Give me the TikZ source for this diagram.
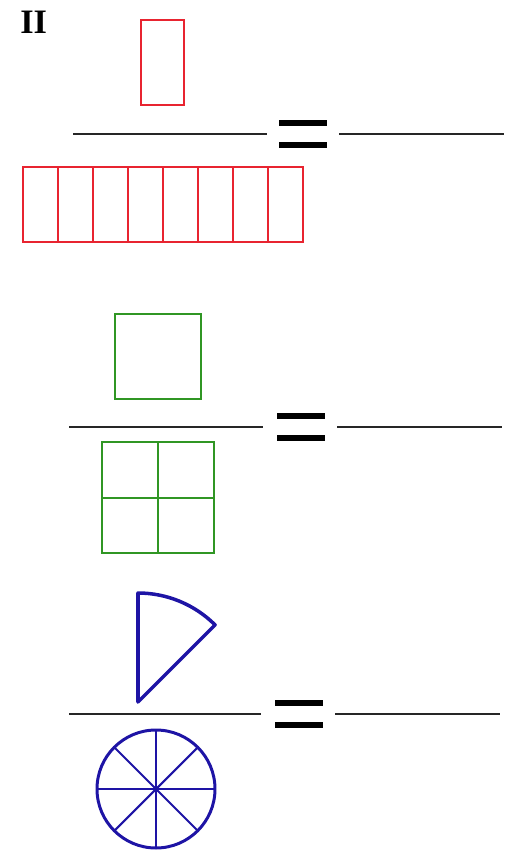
\documentclass[tikz,border=0pt]{standalone}
\usepackage{fontspec}
\setmainfont{Liberation Serif}
\usepackage{xcolor}
\usepackage{tikz}
\usetikzlibrary{positioning}
\definecolor{partred}{RGB}{232,36,48}
\definecolor{partgreen}{RGB}{48,150,36}
\definecolor{partblue}{RGB}{30,20,165}

\begin{document}
\begin{tikzpicture}[x=0.02cm, y=-0.02cm,
  fracline/.style={line width=1.6pt, black!85},
  eqbar/.style={line width=3pt, black},
  redpart/.style={draw=partred, line width=1.2pt},
  greenpart/.style={draw=partgreen, line width=1.2pt},
  bluepart/.style={draw=partblue, line width=#1}, bluepart/.default=1.2pt]
  \useasboundingbox (0,0) rectangle (505,852);
  \node[font=\fontsize{19.5}{20}\selectfont\bfseries, inner sep=0pt, anchor=base west] (title) at (20,33) {II};
  % fraction lines and equals signs
  \foreach \y/\a/\b/\c/\d in {134/73/267/279/339, 427/69/263/277/337, 714/69/261/275/335} {
    \draw[fracline] (\a,\y) -- (\b,\y);
    \draw[eqbar] (\c,\y-11) -- (\c+48,\y-11);
    \draw[eqbar] (\c,\y+11) -- (\c+48,\y+11);
    \draw[fracline] (\d,\y) -- (\d+165,\y);
  }
  % red: one part of eight
  \draw[redpart] (141,20) rectangle (184,105);
  \draw[redpart] (23,167) rectangle (303,242);
  \foreach \k in {1,...,7} \draw[redpart] (23+35*\k,167) -- (23+35*\k,242);
  % green: one part of four
  \draw[greenpart] (115,314) rectangle (201,399);
  \draw[greenpart] (102,442) rectangle (214,553);
  \draw[greenpart] (158,442) -- (158,553) (102,498) -- (214,498);
  % blue: one sector of eight
  \draw[bluepart=2pt, line join=round] (138,702) -- (138,593) arc[start angle=-90, end angle=-45, radius=109] -- cycle;
  \coordinate (hub) at (156,789);
  \draw[bluepart=1.7pt] (hub) circle (59);
  \foreach \a in {0,45,...,315} \draw[bluepart] (hub) -- ++(\a:59);
  \fill[partblue] (hub) circle (3);
\end{tikzpicture}
\end{document}
